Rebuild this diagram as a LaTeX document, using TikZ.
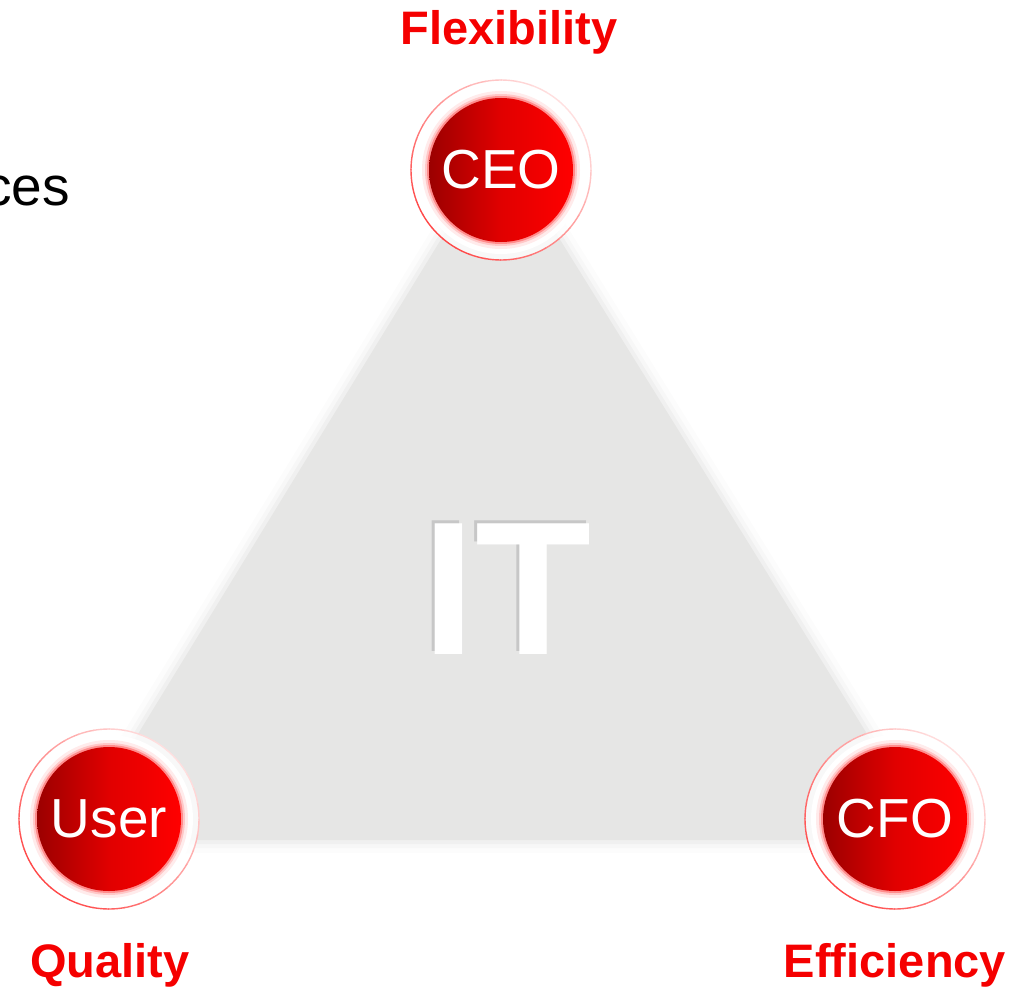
\documentclass[tikz,border=0pt]{standalone}
\usepackage{fontspec}
\setmainfont{Liberation Sans}
\usetikzlibrary{calc}
\definecolor{trigray}{RGB}{230,230,229}
\definecolor{darkred}{RGB}{155,0,0}
\definecolor{midred}{RGB}{225,0,0}
\definecolor{brightred}{RGB}{255,0,0}
\definecolor{labelred}{RGB}{245,0,0}
\begin{document}
\begin{tikzpicture}[x=1pt,y=-1pt,
  rolelabel/.style={text=white,font=\fontsize{55}{55}\selectfont,inner sep=0pt},
  goal/.style={text=labelred,font=\bfseries\fontsize{47}{47}\selectfont,anchor=base,inner sep=0pt},
  ringfill/.style={fill=white,fill opacity=0.75},
  ball/.style={shading=axis,left color=darkred,right color=brightred,middle color=midred,shading angle=90}
]
\useasboundingbox (0,0) rectangle (1021,990);
\clip (0,0) rectangle (1021,990);
% side text
\node[anchor=base east,inner sep=0pt,font=\fontsize{55}{55}\selectfont] (side) at (70,205) {ces};
% triangle
\coordinate (A) at (500,143);
\coordinate (B) at (73,840);
\coordinate (C) at (933,840);
\foreach \w/\o in {26/0.12,16/0.22,8/0.4}{
  \draw[trigray,line width=\w pt,opacity=\o,line join=round] (A)--(B)--(C)--cycle;
}
\fill[trigray] (A)--(B)--(C)--cycle;
% IT
\node[text=black!22,font=\bfseries\fontsize{190}{190}\selectfont,inner sep=0pt] (itshadow) at (504,586) {IT};
\node[text=white,font=\bfseries\fontsize{190}{190}\selectfont,inner sep=0pt] (it) at (507,589) {IT};
% circles
\foreach \n/\x/\y/\t in {ceo/501/170/CEO, user/109/819/User, cfo/895/819/CFO}{
  \coordinate (\n) at (\x,\y);
  \fill[ringfill] (\n) circle (90);
  \foreach \a in {0,10,...,350}{
    \pgfmathsetmacro{\k}{12+60*(1+cos(\a+5-135))/2}
    \draw[red!\k,line width=1.4pt] ($(\n)+(\a:90)$) arc (\a:\a+10.5:90);
  }
  \fill[white] (\n) circle (84);
  \fill[red!8] (\n) circle (79);
  \fill[red!22] (\n) circle (76);
  \fill[red!45] (\n) circle (74);
  \shade[ball] (\n) circle (72);
  \node[rolelabel] (\n-label) at (\n) {\t};
}
% goals
\node[goal] (flex) at (509,45) {Flexibility};
\node[goal] (qual) at (110,977) {Quality};
\node[goal] (eff) at (895,977) {Efficiency};
\end{tikzpicture}
\end{document}
